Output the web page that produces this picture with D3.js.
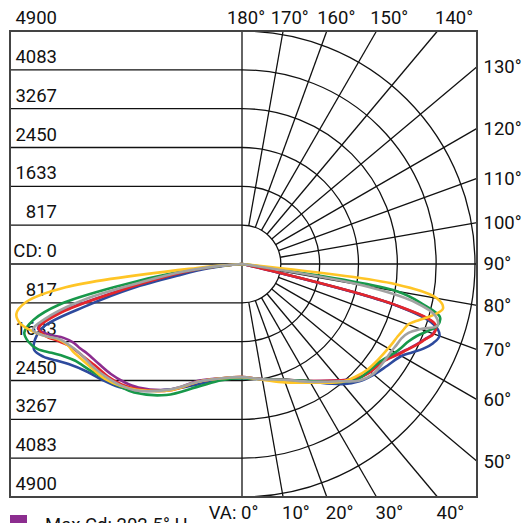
<!DOCTYPE html>
<html>
<head>
<meta charset="utf-8">
<style>
  body { margin: 0; background: #fff; }
  text { font-family: Roboto, "Liberation Sans", Arial, sans-serif; font-size: 18.5px; fill: #111; }
  .grid line, .grid path { stroke: #111; stroke-width: 1.3; fill: none; }
  .frame { stroke: #444; stroke-width: 2; fill: none; }
  .curve { fill: none; stroke-width: 2.6; stroke-linejoin: round; }
</style>
</head>
<body>
<svg id="chart" width="522" height="523"></svg>
<script src="https://d3js.org/d3.v7.min.js"></script>
<script>
// vertical angles (deg) shared by every series
var angles = [0,10,20,30,40,45,50,55,60,62.5,65,67.5,70,72.5,75,77.5,80,82.5,85,90];

// candela, right half of the diagram
var purpleR = [2380,2460,2590,2840,3190,3400,3520,3590,3780,3900,4030,4150,4280,4260,3350,310,60,0,0,0];
var blueR   = [2400,2460,2590,2860,3300,3490,3620,3730,3870,4030,4210,4350,4420,4230,3320,420,110,0,0,0];
var redR    = [2380,2460,2590,2840,3200,3410,3530,3600,3800,3910,4040,4160,4290,4270,3360,320,60,0,0,0];
var greenR  = [2400,2460,2590,2840,3240,3430,3490,3560,3720,3790,3860,3970,4140,4310,4310,3890,3320,170,0,0];
var yellowR = [2380,2470,2650,2880,3240,3360,3450,3500,3550,3580,3610,3660,3720,3910,4160,4330,4160,3260,110,0];
var grayR   = [2380,2460,2590,2860,3220,3470,3600,3620,3640,3670,3700,3790,4000,4310,4210,3740,2520,110,0,0];

// candela, left half of the diagram
var purpleL = [2380,2440,2610,3050,3390,3510,3600,3670,3760,3840,3910,4060,4330,4500,4000,2730,1850,1090,380,0];
var blueL   = [2400,2460,2690,3050,3470,3660,3810,3960,4210,4400,4610,4730,4630,4370,3360,2380,1300,740,250,0];
var redL    = [2380,2440,2630,3070,3430,3580,3680,3750,3870,3940,4040,4210,4410,4480,3930,2690,1790,1090,380,0];
var greenL  = [2400,2480,2750,3180,3530,3640,3760,3900,4060,4210,4420,4660,4780,4800,4540,3930,2590,1430,460,0];
var yellowL = [2380,2440,2630,3070,3450,3620,3760,3840,3940,4000,4040,4160,4420,4650,4830,4860,4610,3740,950,0];
var grayL   = [2380,2440,2630,3050,3470,3610,3710,3800,3870,3930,4020,4140,4420,4610,4160,3320,2060,1260,460,0];

var cdTicks = [817,1633,2450,3267,4083,4900];
var gridAngles = [0,10,20,30,40,50,60,70,80,90,100,110,120,130,140,150,160,170,180];

var series = [
  {name:"purple", color:"#8c2d8f", L:purpleL, R:purpleR},
  {name:"blue",   color:"#2d4a9d", L:blueL,   R:blueR},
  {name:"red",    color:"#e4262b", L:redL,    R:redR},
  {name:"green",  color:"#17984a", L:greenL,  R:greenR},
  {name:"yellow", color:"#ffc526", L:yellowL, R:yellowR},
  {name:"gray",   color:"#a2a2a2", L:grayL,   R:grayR}
];

var svg = d3.select("#chart");
var cx = 242, cy = 264, x0 = 10, x1 = 477, yT = 31, yB = 497;
var step = (yB - yT) / 12;
var r = d3.scaleLinear().domain([0, 4900]).range([0, step * 6]);
var rad = function(d){ return d * Math.PI / 180; };

var grid = svg.append("g").attr("class", "grid");

// left half: horizontal lines
for (var k = -5; k <= 5; k++) {
  grid.append("line").attr("x1", x0).attr("x2", cx).attr("y1", cy + k*step).attr("y2", cy + k*step);
}
grid.append("line").attr("x1", cx).attr("x2", cx).attr("y1", yT).attr("y2", yB);

// right half: concentric arcs
var arc = d3.arc().startAngle(0).endAngle(Math.PI);
cdTicks.forEach(function(v){
  grid.append("path").attr("transform", "translate(" + cx + "," + cy + ")")
    .attr("d", arc({innerRadius: r(v), outerRadius: r(v)}));
});

// radial lines out to the frame, with their labels
function hit(deg) {
  var s = Math.sin(rad(deg)), c = Math.cos(rad(deg));
  var t = Infinity, side = "right";
  if (s > 1e-6) t = (x1 - cx) / s;
  if (c > 1e-6 && (yB - cy) / c < t) { t = (yB - cy) / c; side = "bottom"; }
  if (c < -1e-6 && (yT - cy) / c < t) { t = (yT - cy) / c; side = "top"; }
  return {x: cx + t*s, y: cy + t*c, side: side, s: s, c: c};
}

var labels = svg.append("g");
gridAngles.forEach(function(deg){
  var h = hit(deg);
  if (deg > 0 && deg < 180) {
    grid.append("line")
      .attr("x1", cx + r(cdTicks[0])*h.s).attr("y1", cy + r(cdTicks[0])*h.c)
      .attr("x2", h.x).attr("y2", h.y);
  }
  if (h.side === "right") {
    labels.append("text").attr("x", 483.5).attr("y", h.y).attr("dy", "0.35em").text(deg + "°");
  } else if (h.side === "top") {
    var xt = cx + (16 - cy) / h.c * h.s + 4;
    labels.append("text").attr("x", xt).attr("y", 23.5).attr("text-anchor", "middle").text(deg + "°");
  } else {
    labels.append("text").attr("x", h.x - 1).attr("y", 518.5).text(deg + "°");
    if (deg === 0) labels.append("text").attr("x", h.x - 1).attr("y", 518.5).attr("text-anchor", "end").text("VA:\u00a0");
  }
});

// candela labels on the left
labels.append("text").attr("x", 57).attr("y", cy - 7).attr("text-anchor", "end").text("CD: 0");
cdTicks.forEach(function(v){
  [-1, 1].forEach(function(sg){
    labels.append("text").attr("x", 57).attr("y", cy + sg*r(v) - 7)
      .attr("text-anchor", "end").text(v);
  });
});

// curves
var line = d3.lineRadial()
  .angle(function(d){ return d[0]; })
  .radius(function(d){ return r(d[1]); })
  .curve(d3.curveCatmullRom.alpha(0.5));

var curves = svg.append("g").attr("transform", "translate(" + cx + "," + cy + ")");
series.forEach(function(s){
  var pts = [];
  for (var i = angles.length - 1; i >= 0; i--) pts.push([Math.PI + rad(angles[i]), s.L[i]]);
  for (var j = 1; j < angles.length; j++) pts.push([Math.PI - rad(angles[j]), s.R[j]]);
  pts = pts.filter(function(p, i){ return p[1] > 0 || i === 0 || i === pts.length - 1; });
  curves.append("path").attr("class", "curve").attr("stroke", s.color).attr("d", line(pts));
});

// frame
svg.append("rect").attr("class", "frame").attr("x", x0).attr("y", yT)
  .attr("width", x1 - x0).attr("height", yB - yT);

// legend (cut by the bottom edge, as in the source)
svg.append("rect").attr("x", 10).attr("y", 515).attr("width", 17).attr("height", 17).attr("fill", "#8c2d8f");
svg.append("text").attr("x", 45).attr("y", 531).text("Max Cd: 202.5° H");
</script>
</body>
</html>
